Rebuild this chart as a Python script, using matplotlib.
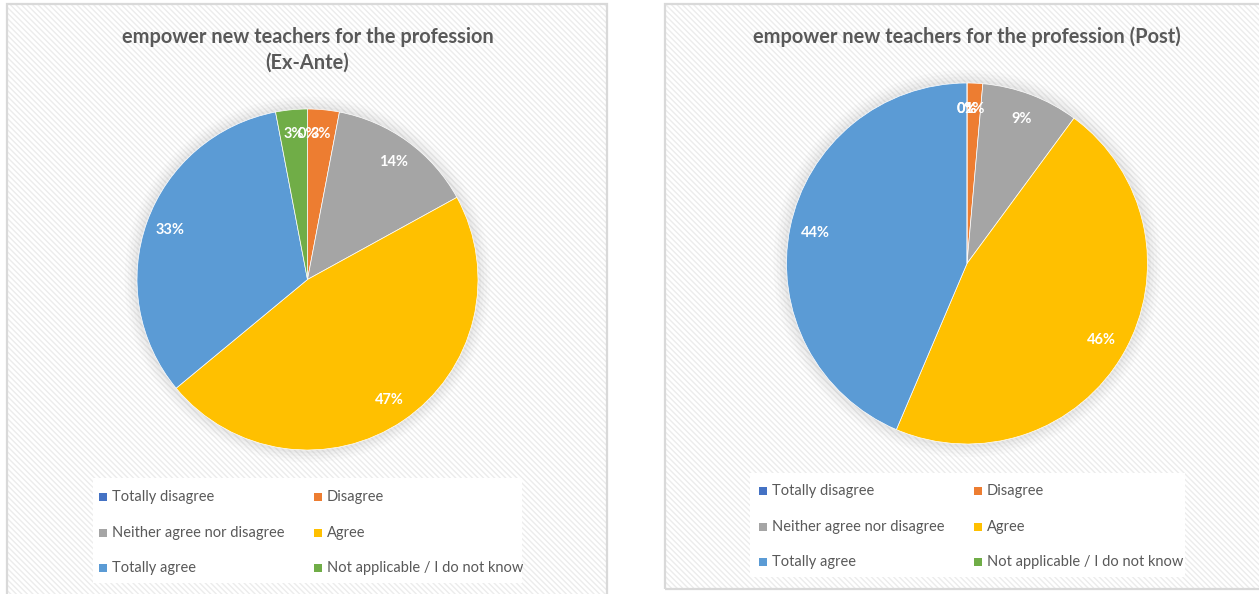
import matplotlib
matplotlib.use("Agg")
import matplotlib.pyplot as plt
from matplotlib.patches import Rectangle, Circle

# ---------------- data ----------------
categories = ["Totally disagree", "Disagree", "Neither agree nor disagree",
              "Agree", "Totally agree", "Not applicable / I do not know"]
ex_ante_pct = [0, 3, 14, 47, 33, 3]
post_pct = [0, 1.4, 8.7, 46.3, 43.6, 0]
title_ex_ante = "empower new teachers for the profession\n(Ex-Ante)"
title_post = "empower new teachers for the profession (Post)"
colors = ["#4472C4", "#ED7D31", "#A5A5A5", "#FFC000", "#5B9BD5", "#70AD47"]

W, H = 1259, 594
FONT = "Lato"
TXT = "#595959"

fig = plt.figure(figsize=(W / 100, H / 100), dpi=100)
fig.patch.set_facecolor("white")


def fx(x):
    return x / W


def fy(y):
    return 1 - y / H


def panel(x0, y0, x1, y1):
    bg = Rectangle((fx(x0), fy(y1)), fx(x1 - x0), (y1 - y0) / H,
                   transform=fig.transFigure, facecolor="white",
                   edgecolor="#ececec", hatch="\\\\\\\\\\\\", lw=0, zorder=-3)
    fig.patches.append(bg)
    bd = Rectangle((fx(x0), fy(y1)), fx(x1 - x0), (y1 - y0) / H,
                   transform=fig.transFigure, facecolor="none",
                   edgecolor="#d9d9d9", lw=1.6, zorder=-1)
    fig.patches.append(bd)


def draw_pie(cx, cy, r, values, title_lines, title_y):
    m = 1.08
    ax = fig.add_axes([fx(cx - r * m), fy(cy + r * m),
                       2 * r * m / W, 2 * r * m / H])
    ax.set_zorder(2)
    # soft shadow
    for i, a in enumerate([0.04, 0.05, 0.06, 0.08]):
        ax.add_patch(Circle((0, 0), 1.0 + 0.018 * (4 - i), color="#9a9a9a",
                            alpha=a, lw=0, zorder=0))
    wedges, texts, autotexts = ax.pie(
        values, colors=colors, startangle=90, counterclock=False,
        radius=1.0, autopct=lambda p: f"{p:.0f}%", pctdistance=0.855,
        wedgeprops=dict(linewidth=0.5, edgecolor="white"),
        textprops=dict(color="white", fontsize=10.5, fontweight="bold",
                       family=FONT))
    ax.set_xlim(-m, m)
    ax.set_ylim(-m, m)
    ax.set_aspect("equal")
    ax.axis("off")
    for y, line in zip(title_y, title_lines):
        fig.text(fx(cx), fy(y), line, ha="center", va="center",
                 fontsize=14.4, fontweight="bold", color=TXT, family=FONT)
    return wedges


def draw_legend(wedges, box, mx, tx, rows):
    x0, y0, x1, y1 = box
    fig.patches.append(Rectangle((fx(x0), fy(y1)), fx(x1 - x0), (y1 - y0) / H,
                                 transform=fig.transFigure, facecolor="white",
                                 edgecolor="none", zorder=-0.5))
    for i, (w, lab) in enumerate(zip(wedges, categories)):
        col, row = i % 2, i // 2
        y = rows[row]
        fig.patches.append(Rectangle((fx(mx[col]), fy(y + 4)), 8 / W, 8 / H,
                                     transform=fig.transFigure,
                                     facecolor=w.get_facecolor(),
                                     edgecolor="none", zorder=3))
        fig.text(fx(tx[col]), fy(y), lab, ha="left", va="center",
                 fontsize=10.5, color=TXT, family=FONT, zorder=3)


panel(7, 4, 607, 600)
panel(665, 4, 1265, 589)

w1 = draw_pie(307.5, 279.5, 170.5, ex_ante_pct, title_ex_ante.split("\n"),
              [37, 63])
w2 = draw_pie(967, 263.5, 180.5, post_pct, [title_post], [37])

draw_legend(w1, (93, 478, 522, 583), (99, 314), (112, 327), (497, 533, 568))
draw_legend(w2, (750, 473, 1185, 577), (759, 974), (772, 987), (491, 527, 562))

fig.savefig("out.png", dpi=100, facecolor="white")
